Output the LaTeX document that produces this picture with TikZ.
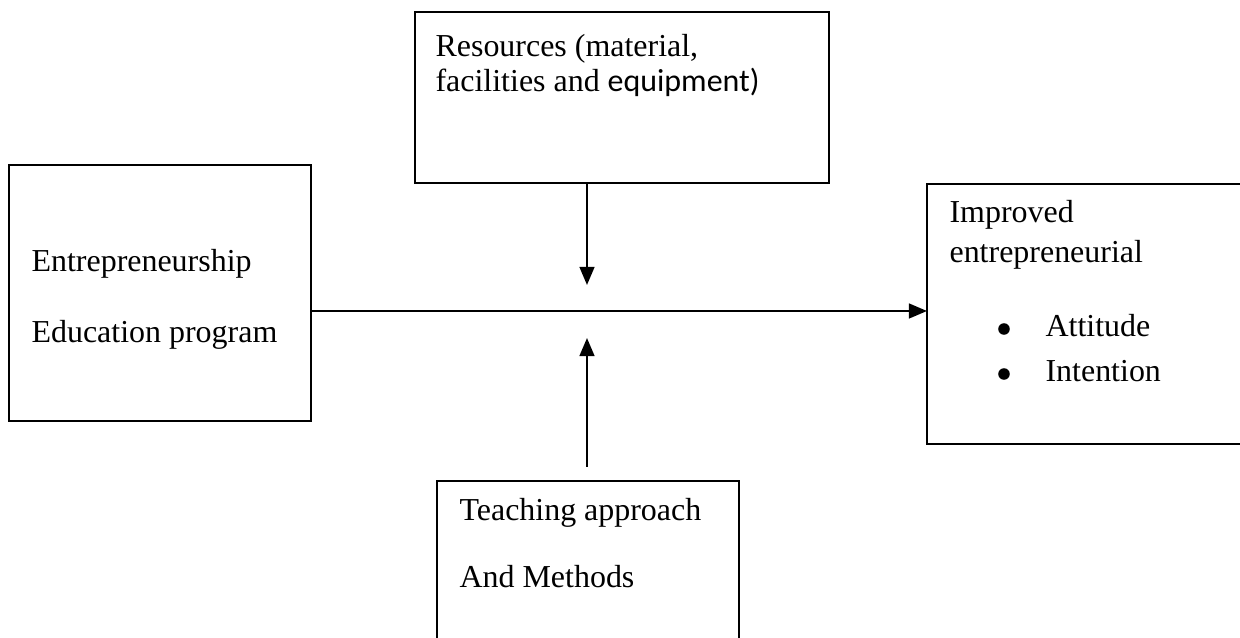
\documentclass[tikz,border=0pt]{standalone}
\usepackage{fontspec}
\setmainfont{Liberation Serif}
\newfontfamily\calibrifont{Carlito}
\usetikzlibrary{arrows.meta}

\tikzset{
	box/.style={draw, line width=0.7pt, rectangle, anchor=north west, inner sep=0pt, outer sep=0pt},
	txt/.style={anchor=base west, inner sep=0pt, font=\fontsize{11}{13}\selectfont},
	dot/.style={circle, fill, inner sep=0pt, minimum size=0.14cm},
	arr/.style={line width=0.7pt, -{Triangle[length=0.22cm,width=0.18cm]}}
}

\begin{document}
\begin{tikzpicture}[x=0.0121cm, y=-0.0121cm]
	\clip (0,0) rectangle (1240,638);
	% boxes
	\node[box, minimum width=5.009cm, minimum height=2.069cm] (res) at (415,12) {};
	\node[box, minimum width=3.654cm, minimum height=3.098cm] (edu) at (9,165) {};
	\node[box, minimum width=3.908cm, minimum height=3.146cm] (imp) at (927,184) {};
	\node[box, minimum width=3.654cm, minimum height=2.045cm] (teach) at (437,481) {};
	% texts
	\node[txt] (res1) at (435,57) {Resources (material,};
	\node[txt] (res2) at (435,92) {facilities and {\calibrifont equipment)}};
	\node[txt] (edu1) at (31,272) {Entrepreneurship};
	\node[txt] (edu2) at (31,343) {Education program};
	\node[txt] (imp1) at (949,223) {Improved};
	\node[txt] (imp2) at (949,263) {entrepreneurial};
	\node[dot] (bul1) at (1004,329) {};
	\node[txt] (att) at (1045,337) {Attitude};
	\node[dot] (bul2) at (1004,374) {};
	\node[txt] (int) at (1045,382) {Intention};
	\node[txt] (teach1) at (459,521) {Teaching approach};
	\node[txt] (teach2) at (459,588) {And Methods};
	% connectors
	\coordinate (hub) at (587,311);
	\coordinate (downtip) at (587,285);
	\coordinate (upfoot) at (587,467);
	\coordinate (uptip) at (587,338);
	\draw[arr] (edu.east |- hub) -- (imp.west |- hub);
	\draw[arr] (res.south -| hub) -- (downtip);
	\draw[arr] (upfoot) -- (uptip);
\end{tikzpicture}
\end{document}
